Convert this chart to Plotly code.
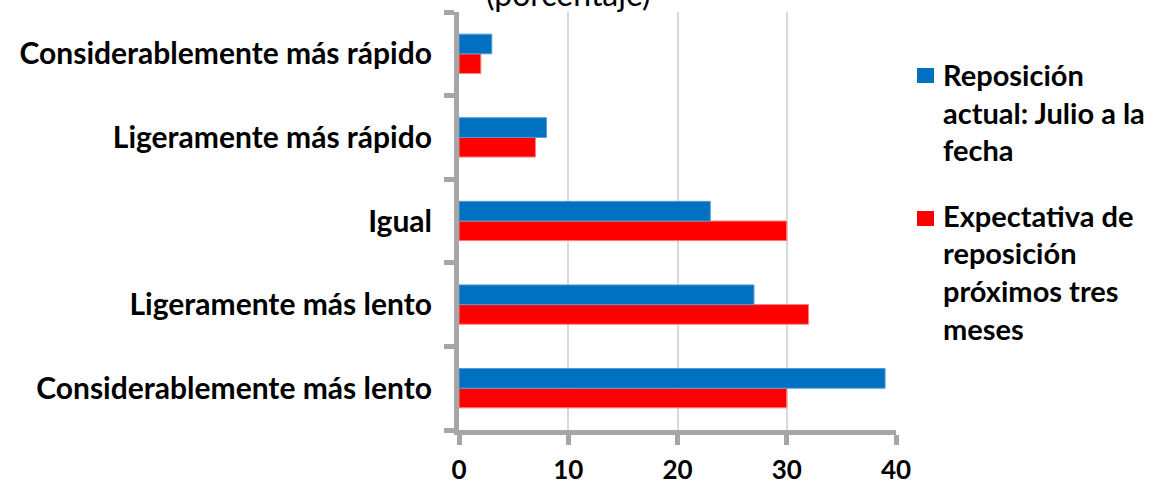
import plotly.graph_objects as go

categorias = [
    "Considerablemente más lento",
    "Ligeramente más lento",
    "Igual",
    "Ligeramente más rápido",
    "Considerablemente más rápido",
]
reposicion_actual = [39, 27, 23, 8, 3]
expectativa = [30, 32, 30, 7, 2]
lineas_actual = ["Reposición", "actual: Julio a la", "fecha"]
lineas_expectativa = ["Expectativa de", "reposición", "próximos tres", "meses"]
ticks_x = [0, 10, 20, 30, 40]

AZUL = "#0070C0"
ROJO = "#FF0000"
GRIS_EJE = "#A6A6A6"
FUENTE = "Lato"

# plot area in pixels (used to place the hand-built legend)
ANCHO, ALTO = 1158, 484
M_IZQ, M_DER, M_SUP, M_INF = 459, 262, 12, 54
AREA_W = ANCHO - M_IZQ - M_DER
AREA_H = ALTO - M_SUP - M_INF


def px_x(px):
    return (px - M_IZQ) / AREA_W


def px_y(py):
    return (ALTO - M_INF - py) / AREA_H


fig = go.Figure()
# red series first so that, within each category, blue sits above red
fig.add_trace(go.Bar(
    y=categorias, x=expectativa, orientation="h",
    name="<br>".join(lineas_expectativa),
    marker=dict(color=ROJO, line=dict(color="#FF8080", width=1)),
))
fig.add_trace(go.Bar(
    y=categorias, x=reposicion_actual, orientation="h",
    name="<br>".join(lineas_actual),
    marker=dict(color=AZUL, line=dict(color="#4D9BD6", width=1)),
))

fig.update_layout(
    width=ANCHO, height=ALTO,
    margin=dict(l=M_IZQ, r=M_DER, t=M_SUP, b=M_INF),
    paper_bgcolor="white", plot_bgcolor="white",
    barmode="group", bargap=0.53, bargroupgap=0,
    font=dict(family=FUENTE, color="#000000"),
    showlegend=False,
)
fig.update_xaxes(
    range=[0, 40], tickvals=ticks_x, ticktext=[f"<b>{t}</b>" for t in ticks_x],
    showgrid=True, gridcolor="#D9D9D9", gridwidth=2,
    showline=True, linecolor=GRIS_EJE, linewidth=5,
    ticks="outside", ticklen=10, tickwidth=5, tickcolor=GRIS_EJE,
    tickfont=dict(family=FUENTE, size=26, color="#000000"),
    ticklabelstandoff=3,
    zeroline=False, automargin=False,
)
fig.update_yaxes(
    categoryorder="array", categoryarray=categorias,
    tickvals=categorias, ticktext=[f"<b>{c}</b>" for c in categorias],
    showline=True, linecolor=GRIS_EJE, linewidth=5,
    ticks="outside", tickson="boundaries", ticklen=10, tickwidth=5,
    tickcolor=GRIS_EJE, showgrid=False,
    tickfont=dict(family=FUENTE, size=30, color="#000000"),
    ticklabelstandoff=16, automargin=False,
)

# chart subtitle, partly above the top edge of the figure
fig.add_annotation(
    text="(porcentaje)", xref="paper", yref="paper", x=px_x(568), y=px_y(-7),
    xanchor="center", yanchor="middle", showarrow=False,
    font=dict(family=FUENTE, size=32, color="#000000"),
)

# legend: coloured square plus bold wrapped label for each series
leyenda = [
    (AZUL, lineas_actual, 68, [85, 122, 160]),
    (ROJO, lineas_expectativa, 211, [225, 263, 300, 338]),
]
for color, lineas, cuadro_y, bases in leyenda:
    fig.add_shape(
        type="rect", xref="paper", yref="paper",
        x0=px_x(917), x1=px_x(934), y0=px_y(cuadro_y + 15), y1=px_y(cuadro_y),
        fillcolor=color, line=dict(width=0),
    )
    for texto, base in zip(lineas, bases):
        fig.add_annotation(
            text=f"<b>{texto}</b>", xref="paper", yref="paper",
            x=px_x(941), y=px_y(base - 10), xanchor="left", yanchor="middle",
            showarrow=False, font=dict(family=FUENTE, size=29, color="#000000"),
        )

fig.write_html("out.html")
